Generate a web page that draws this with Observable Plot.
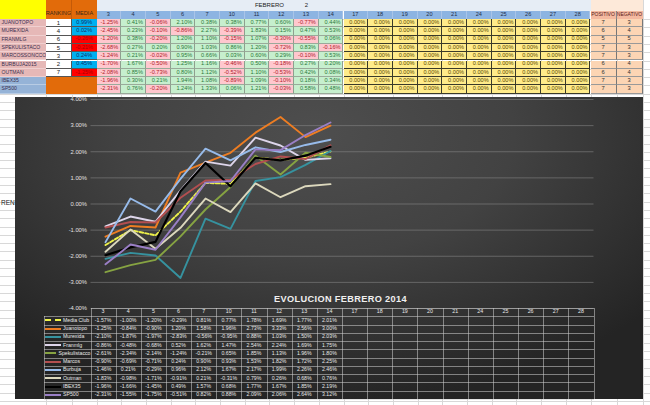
<!DOCTYPE html>
<html><head><meta charset="utf-8">
<script src="https://cdn.jsdelivr.net/npm/d3@7"></script>
<script src="https://cdn.jsdelivr.net/npm/@observablehq/plot@0.6"></script>
<style>
html,body{margin:0;padding:0;background:#fff;}
#page{position:relative;width:650px;height:405px;overflow:hidden;font-family:"Liberation Sans",Arial,sans-serif;}
.c{position:absolute;box-sizing:border-box;white-space:nowrap;overflow:hidden;line-height:1;display:flex;align-items:center;justify-content:center;}
.ln{position:absolute;}
</style></head><body><div id="page"></div>
<script>
// ---------- data ----------
const dates = ["3","4","5","6","7","10","11","12","13","14","17","18","19","20","21","24","25","26","27","28"];
const monthLabel = "FEBRERO";
const monthNumber = "2";

// top spreadsheet (daily returns, %)
const topNames = ["JUANOTOPO","MUREXIDA","FRANMLG","SPEKULISTACO","MARCOSSONCCO","BURBUJA2015","OUTMAN","IBEX35","SP500"];
const ranking = [1,4,6,5,3,2,7,null,null];
const media = [0.99,0.02,-0.26,-0.21,0.24,0.45,-1.25,null,null];
const dJuanotopo = [-1.25,0.41,-0.06,2.10,0.38,0.38,0.77,0.60,-0.77,0.44];
const dMurexida = [-2.45,0.23,-0.10,-0.86,2.27,-0.39,1.83,0.15,0.47,0.53];
const dFranmlg = [-1.20,0.38,-0.20,1.20,1.10,-0.15,1.07,-0.30,-0.55,0.06];
const dSpekulistacco = [-2.68,0.27,0.20,0.90,1.03,0.86,1.20,-0.72,0.83,-0.16];
const dMarcos = [-1.24,0.21,-0.02,0.95,0.66,0.03,0.60,0.29,-0.10,0.53];
const dBurbuja = [-1.70,1.67,-0.50,1.25,1.16,-0.46,0.50,-0.18,0.27,0.20];
const dOutman = [-2.08,0.85,-0.73,0.80,1.12,-0.52,1.10,-0.53,0.42,0.08];
const dIbex = [-1.96,0.30,0.21,1.94,1.08,-0.89,1.09,-0.10,0.18,0.34];
const dSp500 = [-2.31,0.76,-0.20,1.24,1.33,0.06,1.21,-0.03,0.58,0.48];
const positivo = [7,6,5,7,7,6,6,7,7];
const negativo = [3,4,5,3,3,4,4,3,3];

// chart series (cumulative, %)
const seriesNames = ["Media Club","Juanotopo","Murexida","Franmlg","Spekulistacco","Marcos","Burbuja","Outman","IBEX35","SP500"];
const seriesColors = ["#eef24a","#ee7d22","#36929f","#ddd5ea","#86a342","#b34f50","#97bbea","#dcd8bd","#000000","#9a7fc6"];
const cMediaClub = [-1.57,-1.00,-1.20,-0.29,0.81,0.77,1.78,1.69,1.77,2.01];
const cJuanotopo = [-1.25,-0.84,-0.90,1.20,1.58,1.96,2.73,3.33,2.56,3.00];
const cMurexida = [-2.10,-1.87,-1.97,-2.83,-0.56,-0.95,0.88,1.03,1.50,2.03];
const cFranmlg = [-0.86,-0.48,-0.68,0.52,1.62,1.47,2.54,2.24,1.69,1.75];
const cSpekulistacco = [-2.61,-2.34,-2.14,-1.24,-0.21,0.65,1.85,1.13,1.96,1.80];
const cMarcos = [-0.90,-0.69,-0.71,0.24,0.90,0.93,1.53,1.82,1.72,2.25];
const cBurbuja = [-1.46,0.21,-0.29,0.96,2.12,1.67,2.17,1.99,2.26,2.46];
const cOutman = [-1.83,-0.98,-1.71,-0.91,0.21,-0.31,0.79,0.26,0.68,0.76];
const cIbex = [-1.96,-1.66,-1.45,0.49,1.57,0.68,1.77,1.67,1.85,2.19];
const cSp500 = [-2.31,-1.55,-1.75,-0.51,0.82,0.88,2.09,2.06,2.64,3.12];
const yTicks = [-4,-3,-2,-1,0,1,2,3,4];
const chartTitle = "EVOLUCION FEBRERO 2014";
const sideLabel = "RENT";

const dailyRows = [dJuanotopo,dMurexida,dFranmlg,dSpekulistacco,dMarcos,dBurbuja,dOutman,dIbex,dSp500];
const cumRows = [cMediaClub,cJuanotopo,cMurexida,cFranmlg,cSpekulistacco,cMarcos,cBurbuja,cOutman,cIbex,cSp500];

// ---------- helpers ----------
const page = document.getElementById("page");
function cell(x,y,w,h,text,st={}){
  const d=document.createElement("div"); d.className="c";
  Object.assign(d.style,{left:x+"px",top:y+"px",width:w+"px",height:h+"px"},st);
  if(text!=null) d.textContent=text;
  page.appendChild(d); return d;
}
function line(x,y,w,h,color){
  const d=document.createElement("div"); d.className="ln";
  Object.assign(d.style,{left:x+"px",top:y+"px",width:w+"px",height:h+"px",background:color});
  page.appendChild(d); return d;
}
const pct = v => v.toFixed(2)+"%";

// ---------- spreadsheet background grid ----------
const colA=0, colRank=46, colMedia=72, colDate0=96.5, colDateW=24.7;
const colPos = colDate0+dates.length*colDateW, colNeg=colPos+26, colEnd=colNeg+26;
const rowH=8.3, row1Y=10.5, dataY=19;
{
  const bounds=[colRank,colMedia,colDate0];
  for(let i=1;i<=dates.length;i++) bounds.push(colDate0+i*colDateW);
  bounds.push(colNeg,colEnd,colEnd+26);
  for(const b of bounds) line(b,0,1,405,"#d8d8d8");
  for(let y=dataY; y<405; y+=rowH) line(0,y,650,1,"#d8d8d8");
}

// ---------- top spreadsheet ----------
cell(colA,0,colRank,dataY,"",{background:"#ffff00"});
cell(colRank,0,colMedia-colRank,dataY,"RANKING",{background:"#e26b0a",color:"#3a2a1a",fontSize:"5.6px",alignItems:"flex-end",paddingBottom:"2px",borderRight:"1px solid #c45a08"});
cell(colMedia,0,colDate0-colMedia,dataY,"MEDIA",{background:"#e26b0a",color:"#3a2a1a",fontSize:"5.6px",alignItems:"flex-end",paddingBottom:"2px"});
cell(colDate0,0,colPos-colDate0,row1Y,"",{background:"#e6edf5"});
cell(colDate0+6*colDateW,0,colDateW*2,row1Y,monthLabel,{color:"#222",fontSize:"6px"});
cell(colDate0+8*colDateW,0,colDateW,row1Y,monthNumber,{color:"#222",fontSize:"6px"});
cell(colPos,0,colEnd-colPos,row1Y,"",{background:"#fde9d9"});
dates.forEach((d,i)=>cell(colDate0+i*colDateW,row1Y,colDateW,dataY-row1Y,d,{background:"#8db4e2",color:"#1f2f4a",fontSize:"5.6px",borderRight:"1px solid #a9c4e8"}));
cell(colPos,row1Y,colNeg-colPos,dataY-row1Y,"POSITIVO",{background:"#f4b9a0",color:"#5a1a1a",fontSize:"5px",borderRight:"1px solid #888"});
cell(colNeg,row1Y,colEnd-colNeg,dataY-row1Y,"NEGATIVO",{background:"#f4b9a0",color:"#5a1a1a",fontSize:"5px"});

topNames.forEach((name,r)=>{
  const y=dataY+r*rowH;
  const isIdx = r>=7;
  cell(colA,y,colRank,rowH,name,{background:isIdx?"#95b3d7":"#e6b8b7",color:"#3c3050",fontSize:"5.1px",justifyContent:"flex-start",paddingLeft:"1.5px",borderBottom:"1px solid "+(isIdx?"#b8cce4":"#f0d0d0")});
  if(!isIdx){
    cell(colRank,y,colMedia-colRank,rowH,String(ranking[r]),{background:"#fff",color:"#222",fontSize:"6px",borderBottom:"1px solid #555",borderRight:"1px solid #555"});
    const m=media[r];
    cell(colMedia,y,colDate0-colMedia,rowH,pct(m),{background:m>=0?"#00b0f0":"#ff0000",color:m>=0?"#10306a":"#a80000",fontSize:"5.6px",borderBottom:"1px solid #555"});
  }
  dates.forEach((d,i)=>{
    const x=colDate0+i*colDateW;
    const v = i<dailyRows[r].length ? dailyRows[r][i] : 0;
    let bg,fg;
    if(i>=dailyRows[r].length){bg="#ffeb8a";fg="#5a4a00";}
    else if(v>=0){bg="#c6efce";fg="#2b7a3a";}
    else {bg="#ffc7ce";fg="#b0202a";}
    cell(x,y,colDateW,rowH,pct(v),{background:bg,color:fg,fontSize:"5.6px",justifyContent:"flex-end",paddingRight:"2px",borderRight:"1px solid "+(i>=dailyRows[r].length?"#3a3a2a":"#8f9f8f"),borderBottom:"1px solid "+(i>=dailyRows[r].length?"#3a3a2a":"#9aaa9a")});
  });
  cell(colPos,y,colNeg-colPos,rowH,String(positivo[r]),{background:"#fcd5b4",color:"#333",fontSize:"5.8px",borderRight:"1px solid #777",borderBottom:"1px solid #999"});
  cell(colNeg,y,colEnd-colNeg,rowH,String(negativo[r]),{background:"#fcd5b4",color:"#333",fontSize:"5.8px",borderRight:"1px solid #777",borderBottom:"1px solid #999"});
});
cell(colRank,dataY+7*rowH,colDate0-colRank,rowH*2,"",{background:"#e26b0a"});

// side label
cell(1,198,14,10,sideLabel,{color:"#222",fontSize:"6.5px",justifyContent:"flex-start",overflow:"visible"});

// ---------- chart ----------
const chartL=15, chartT=97, chartR=643, chartB=399;
cell(chartL,chartT,chartR-chartL,chartB-chartT,"",{background:"radial-gradient(ellipse 70% 90% at 48% 12%, #4e4e4e 0%, #424242 45%, #2f2f2f 80%, #242424 100%)"});

const long=[];
seriesNames.forEach((s,k)=>cumRows[k].forEach((v,i)=>long.push({series:s,date:dates[i],value:v})));

const svgTop=90, plotTopPx=99, plotBotPx=308, plotLeftPx=90.5, plotRightPx=593.5;
const W=chartR-chartL, H=chartB-svgTop;
const mL=plotLeftPx-chartL, mR=chartR-plotRightPx, mT=plotTopPx-svgTop, mB=chartB-plotBotPx;

const chart = Plot.plot({
  width: W, height: H,
  marginLeft: mL, marginRight: mR, marginTop: mT, marginBottom: mB,
  style:{position:"absolute",left:chartL+"px",top:svgTop+"px",background:"transparent",color:"#e2e2e2",fontSize:"5.8px",fontFamily:"Liberation Sans, Arial, sans-serif",overflow:"visible"},
  x:{type:"point",domain:dates,padding:0.5,axis:null},
  y:{domain:[-4,4],ticks:yTicks,tickFormat:d=>d.toFixed(2)+"%",tickSize:0,tickPadding:4,label:null},
  color:{domain:seriesNames,range:seriesColors},
  marks:[
    Plot.ruleY(yTicks,{stroke:"#8a8a8a",strokeOpacity:0.55,strokeWidth:1}),
    ...seriesNames.map(name=>Plot.line(long.filter(d=>d.series===name),{
      x:"date",y:"value",stroke:"series",
      strokeWidth: name==="IBEX35"?2.2:1.9,
      strokeDasharray: name==="Media Club"?"3.5,2":undefined,
      strokeLinejoin:"round"
    }))
  ]
});
page.appendChild(chart);

// title
cell(plotLeftPx+120,294,260,12,chartTitle,{color:"#f0f0f0",fontSize:"9.2px",fontWeight:"bold",letterSpacing:"0.35px"});

// ---------- data table under chart ----------
const tTop=plotBotPx, tRowH=(chartB-plotBotPx)/11, labX=44;
const colW=(plotRightPx-plotLeftPx)/dates.length;
const gridC="rgba(205,205,205,0.55)";
// header
dates.forEach((d,i)=>cell(plotLeftPx+i*colW,tTop,colW,tRowH,d,{color:"#e8e8e8",fontSize:"5.3px"}));
seriesNames.forEach((s,k)=>{
  const y=tTop+(k+1)*tRowH;
  const lab=cell(labX,y,plotLeftPx-labX,tRowH,null,{justifyContent:"flex-start",paddingLeft:"1px",color:"#e8e8e8",fontSize:"5.2px"});
  const key=document.createElement("span");
  Object.assign(key.style,{display:"inline-block",width:"16px",height:"0",borderTop:(s==="Media Club"?"2px dashed ":"2px solid ")+seriesColors[k],marginRight:"2px"});
  lab.appendChild(key);
  lab.appendChild(document.createTextNode(s));
  cumRows[k].forEach((v,i)=>cell(plotLeftPx+i*colW,y,colW,tRowH,pct(v),{color:"#e8e8e8",fontSize:"5.2px"}));
});
// table grid lines
for(let r=0;r<=11;r++){
  const y=tTop+r*tRowH;
  const x0 = r===0 ? plotLeftPx : labX;
  line(x0,y,plotRightPx-x0,0.8,gridC);
}
for(let i=0;i<=dates.length;i++) line(plotLeftPx+i*colW,tTop,0.8,chartB-tTop,gridC);
line(labX,tTop+tRowH,0.8,chartB-tTop-tRowH,gridC);
</script>
</body></html>
